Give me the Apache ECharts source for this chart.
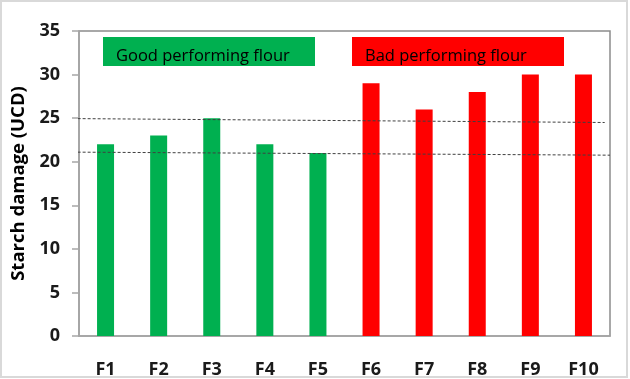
<!DOCTYPE html>
<html>
<head>
<meta charset="utf-8">
<script src="https://cdn.jsdelivr.net/npm/echarts@6/dist/echarts.min.js"></script>
<style>
html,body{margin:0;padding:0;background:#fff;}
#c{width:630px;height:379px;}
</style>
</head>
<body>
<div id="c"></div>
<script>
var categories = ['F1','F2','F3','F4','F5','F6','F7','F8','F9','F10'];
var starchDamage = [22, 23, 25, 22, 21, 29, 26, 28, 30, 30];
var groups = ['good','good','good','good','good','bad','bad','bad','bad','bad'];
var groupColors = { good: '#00b050', bad: '#ff0000' };
var yTicks = { min: 0, max: 35, interval: 5 };
var refLineUpper = [[-0.12, 24.95], [9.9, 24.5]];
var refLineLower = [[-0.12, 21.1], [10.0, 20.75]];
var groupLabels = ['Good performing flour', 'Bad performing flour'];

var chart = echarts.init(document.getElementById('c'), null, {renderer: 'canvas'});
var FONT = '"Open Sans", "Liberation Sans", sans-serif';
var option = {
  animation: false,
  backgroundColor: '#fff',
  grid: { left: 79, right: 20, top: 31, bottom: 42, show: true, borderColor: '#8c8c8c', borderWidth: 1.5, backgroundColor: 'transparent' },
  xAxis: [{
    type: 'category',
    data: categories,
    axisLine: { lineStyle: { color: '#a6a6a6', width: 1.5 } },
    axisTick: { show: false },
    axisLabel: { color: '#1a1a1a', fontFamily: FONT, fontWeight: 'bold', fontSize: 18, margin: 25 }
  }, {
    type: 'value', min: 0, max: 10, show: false
  }],
  yAxis: {
    type: 'value',
    min: yTicks.min, max: yTicks.max, interval: yTicks.interval,
    name: 'Starch damage (UCD)',
    nameLocation: 'middle',
    nameGap: 51,
    nameTextStyle: { color: '#000', fontFamily: FONT, fontWeight: 'bold', fontSize: 18.5 },
    axisLine: { show: true, lineStyle: { color: '#a6a6a6', width: 1.5 } },
    axisTick: { show: true, length: 7, lineStyle: { color: '#a6a6a6', width: 1.5 } },
    splitLine: { show: false },
    axisLabel: { color: '#1a1a1a', fontFamily: FONT, fontWeight: 'bold', fontSize: 18, margin: 19 }
  },
  series: [{
    type: 'bar',
    data: starchDamage.map(function (v, i) {
      return { value: v, itemStyle: { color: groupColors[groups[i]] } };
    }),
    barWidth: 17
  }, {
    type: 'line', xAxisIndex: 1, data: refLineUpper, clip: false, symbol: 'none',
    lineStyle: { color: '#404040', width: 1, type: [3, 2] }, silent: true
  }, {
    type: 'line', xAxisIndex: 1, data: refLineLower, clip: false, symbol: 'none',
    lineStyle: { color: '#404040', width: 1, type: [3, 2] }, silent: true
  }],
  graphic: [
    { type: 'rect', shape: { x: 1, y: 1, width: 626, height: 376 }, style: { fill: 'none', stroke: '#d9d9d9', lineWidth: 2 }, silent: true },
    { type: 'rect', shape: { x: 103, y: 37, width: 212, height: 29 }, style: { fill: '#00b050' }, z: 10 },
    { type: 'text', x: 116, y: 56, z: 11, style: { text: groupLabels[0], fill: '#000', font: '16.5px ' + FONT, verticalAlign: 'middle' } },
    { type: 'rect', shape: { x: 352, y: 37, width: 212, height: 29 }, style: { fill: '#ff0000' }, z: 10 },
    { type: 'text', x: 365, y: 56, z: 11, style: { text: groupLabels[1], fill: '#000', font: '16.5px ' + FONT, verticalAlign: 'middle' } }
  ]
};
chart.setOption(option);
</script>
</body>
</html>
